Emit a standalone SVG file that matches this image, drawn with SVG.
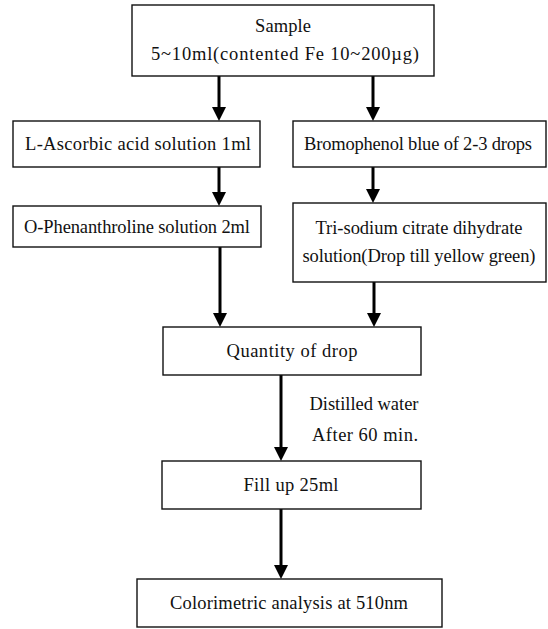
<svg xmlns="http://www.w3.org/2000/svg" width="548" height="629" viewBox="0 0 548 629">
<style>
.box{fill:#fff;stroke:#111;stroke-width:1.4}
.t{font-family:"Liberation Serif","Times New Roman",serif;font-size:18.5px;fill:#111;text-anchor:middle}
.c{stroke:#000;stroke-width:3;fill:none}
</style>
<defs>
<marker id="ah" markerUnits="userSpaceOnUse" markerWidth="14" markerHeight="14" refX="0" refY="7" orient="auto" viewBox="0 0 14 14">
<path d="M0,0 L14,7 L0,14 z" fill="#000"/>
</marker>
</defs>
<rect width="548" height="629" fill="#fff"/>
<g id="connectors">
<line class="c" x1="219" y1="76" x2="219" y2="107" marker-end="url(#ah)"/>
<line class="c" x1="373" y1="76" x2="373" y2="107" marker-end="url(#ah)"/>
<line class="c" x1="219" y1="167" x2="219" y2="192" marker-end="url(#ah)"/>
<line class="c" x1="373" y1="167" x2="373" y2="189" marker-end="url(#ah)"/>
<line class="c" x1="220" y1="247" x2="220" y2="313" marker-end="url(#ah)"/>
<line class="c" x1="374" y1="282" x2="374" y2="313" marker-end="url(#ah)"/>
<line class="c" x1="281" y1="375" x2="281" y2="447" marker-end="url(#ah)"/>
<line class="c" x1="281" y1="509" x2="281" y2="565" marker-end="url(#ah)"/>
<text class="t" x="364" y="410" textLength="109" lengthAdjust="spacing">Distilled water</text>
<text class="t" x="365" y="441" textLength="106" lengthAdjust="spacing">After 60 min.</text>
</g>
<g id="sample">
<rect class="box" x="132" y="5" width="302" height="71"/>
<text class="t" x="283" y="32" textLength="56" lengthAdjust="spacing">Sample</text>
<text class="t" x="285" y="60" textLength="268" lengthAdjust="spacing">5~10ml(contented Fe 10~200µg)</text>
</g>
<g id="ascorbic">
<rect class="box" x="13" y="121" width="247" height="46"/>
<text class="t" x="138" y="150" textLength="226" lengthAdjust="spacing">L-Ascorbic acid solution 1ml</text>
</g>
<g id="bromophenol">
<rect class="box" x="293" y="121" width="253" height="46"/>
<text class="t" x="418" y="150" textLength="228" lengthAdjust="spacing">Bromophenol blue of 2-3 drops</text>
</g>
<g id="phenanthroline">
<rect class="box" x="13" y="206" width="248" height="41"/>
<text class="t" x="137" y="233" textLength="226" lengthAdjust="spacing">O-Phenanthroline solution 2ml</text>
</g>
<g id="citrate">
<rect class="box" x="293" y="203" width="253" height="79"/>
<text class="t" x="419" y="234" textLength="207" lengthAdjust="spacing">Tri-sodium citrate dihydrate</text>
<text class="t" x="419" y="262" textLength="233" lengthAdjust="spacing">solution(Drop till yellow green)</text>
</g>
<g id="quantity">
<rect class="box" x="163" y="327" width="258" height="48"/>
<text class="t" x="292" y="357" textLength="131" lengthAdjust="spacing">Quantity of drop</text>
</g>
<g id="fillup">
<rect class="box" x="162" y="461" width="259" height="48"/>
<text class="t" x="291" y="491" textLength="95" lengthAdjust="spacing">Fill up 25ml</text>
</g>
<g id="colorimetric">
<rect class="box" x="137" y="579" width="305" height="48"/>
<text class="t" x="289" y="609" textLength="238" lengthAdjust="spacing">Colorimetric analysis at 510nm</text>
</g>
</svg>
